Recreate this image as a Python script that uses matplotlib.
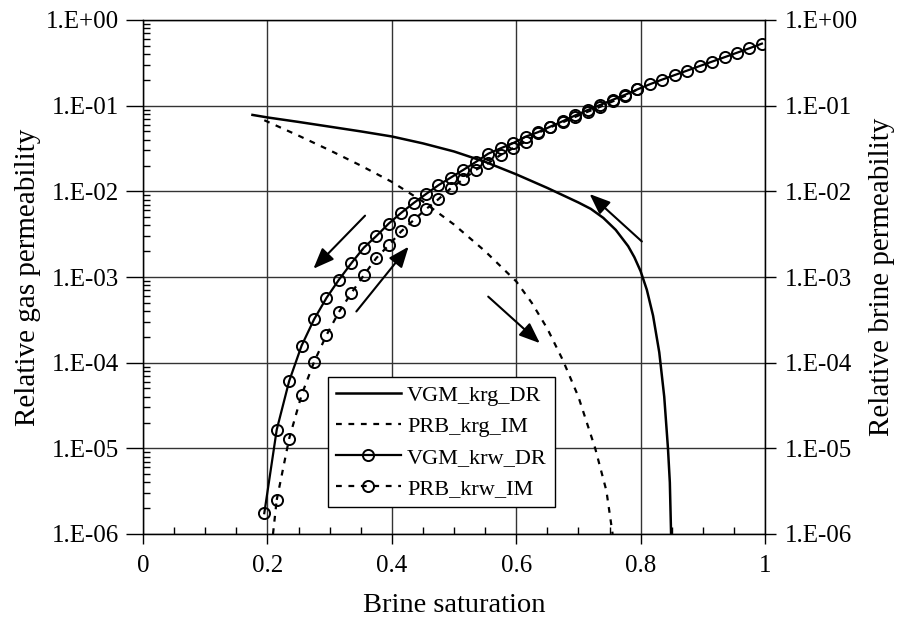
import numpy as np
import matplotlib
matplotlib.use('Agg')
import matplotlib.pyplot as plt
from matplotlib.ticker import FuncFormatter, MultipleLocator, LogLocator, NullLocator

plt.rcParams['font.family'] = ['Liberation Serif', 'DejaVu Serif']

# VGM_krg_DR (solid)
sw_krg_dr = [0.176, 0.2, 0.25, 0.3, 0.35, 0.4, 0.45, 0.5, 0.55, 0.6, 0.65, 0.7,
             0.72, 0.74, 0.76, 0.78, 0.79, 0.8, 0.81, 0.82, 0.83, 0.838, 0.844, 0.847, 0.849]
krg_dr = [0.078, 0.0729, 0.0646, 0.0569, 0.0501, 0.0437, 0.0363, 0.0292, 0.0221, 0.0158, 0.01096, 0.00741,
          0.00624, 0.0049, 0.00355, 0.00229, 0.0017, 0.00117, 7.1e-4, 3.55e-4, 1.32e-4, 4e-5, 1e-5, 4e-6, 1e-6]

# PRB_krg_IM (dashed)
sw_krg_im = [0.195, 0.25, 0.3, 0.35, 0.4, 0.45, 0.5, 0.55, 0.6, 0.625, 0.65,
             0.675, 0.7, 0.727, 0.745, 0.755]
krg_im = [0.0676, 0.0447, 0.0302, 0.020, 0.0129, 0.0076, 0.0041, 0.0020, 8.9e-4, 5e-4, 2.5e-4,
          1.07e-4, 4e-5, 1e-5, 3.2e-6, 1e-6]

# VGM_krw_DR (solid + circles)
sw_krw_dr = [0.195, 0.215, 0.235, 0.255, 0.275, 0.295, 0.315, 0.335, 0.355, 0.375,
             0.395, 0.415, 0.435, 0.455, 0.475, 0.495, 0.515, 0.535, 0.555, 0.575,
             0.595, 0.615, 0.635, 0.655, 0.675, 0.695, 0.715, 0.735, 0.755, 0.775,
             0.795, 0.815, 0.835, 0.855, 0.875, 0.895, 0.915, 0.935, 0.955, 0.975, 0.995]
krw_dr = [1.75e-6, 1.65e-5, 6.1e-5, 1.58e-4, 3.2e-4, 5.7e-4, 9.3e-4, 1.45e-3, 2.2e-3, 3.0e-3,
          4.2e-3, 5.6e-3, 7.3e-3, 9.3e-3, 0.0118, 0.0145, 0.0178, 0.0220, 0.0275, 0.0318,
          0.0365, 0.0435, 0.049, 0.057, 0.066, 0.077, 0.089, 0.102, 0.117, 0.134,
          0.155, 0.178, 0.202, 0.228, 0.257, 0.290, 0.327, 0.368, 0.415, 0.468, 0.530]

# PRB_krw_IM (dashed + circles)
sw_krw_im = [0.215, 0.235, 0.255, 0.275, 0.295, 0.315, 0.335, 0.355, 0.375, 0.395,
             0.415, 0.435, 0.455, 0.475, 0.495, 0.515, 0.535, 0.555, 0.575, 0.595,
             0.615, 0.635, 0.655, 0.675, 0.695, 0.715, 0.735, 0.755, 0.775, 0.795]
krw_im = [2.5e-6, 1.3e-5, 4.2e-5, 1.02e-4, 2.1e-4, 3.9e-4, 6.5e-4, 1.05e-3, 1.66e-3, 2.35e-3,
          3.4e-3, 4.6e-3, 6.2e-3, 8.1e-3, 0.0109, 0.0138, 0.0178, 0.0213, 0.0266, 0.0318,
          0.038, 0.048, 0.056, 0.064, 0.074, 0.085, 0.097, 0.112, 0.130, 0.155]
# tail of the PRB_krw_IM line below its first marker
sw_krw_im_tail = [0.209, 0.215]
krw_im_tail = [1e-6, 2.5e-6]

# arrows (tail -> head) in data coords
arrow_tails = [(0.357, 5.2e-3), (0.343, 3.96e-4), (0.555, 5.9e-4), (0.802, 2.6e-3)]
arrow_heads = [(0.274, 1.25e-3), (0.427, 2.26e-3), (0.638, 1.69e-4), (0.718, 9.3e-3)]

fig = plt.figure(figsize=(9.02, 6.35), dpi=100)
ax = fig.add_axes([143/902, 1-534/635, 622/902, 514/635])

dash = (0, (2.6, 3))
ax.plot(sw_krg_dr, krg_dr, color='k', lw=1.8, label='VGM_krg_DR')
ax.plot(sw_krg_im, krg_im, color='k', lw=1.6, linestyle=dash, label='PRB_krg_IM')
ax.plot(sw_krw_dr, krw_dr, color='k', lw=1.6, marker='o', markersize=8,
        markerfacecolor='none', markeredgewidth=1.4, label='VGM_krw_DR')
ax.plot(sw_krw_im, krw_im, color='k', lw=1.6, linestyle=dash, marker='o', markersize=8,
        markerfacecolor='none', markeredgewidth=1.4, label='PRB_krw_IM')
ax.plot(sw_krw_im_tail, krw_im_tail, color='k', lw=1.6, linestyle=dash)

for t, h in zip(arrow_tails, arrow_heads):
    ax.annotate('', xy=h, xytext=t,
                arrowprops=dict(arrowstyle='-|>,head_length=0.7,head_width=0.28', color='k',
                                lw=1.5, mutation_scale=18, shrinkA=0, shrinkB=0))

ax.set_yscale('log')
ax.set_xlim(0, 1)
ax.set_ylim(1e-6, 1)

fmt = FuncFormatter(lambda v, p: '1.E%+03d' % round(np.log10(v)))
ax.yaxis.set_major_locator(LogLocator(base=10, numticks=10))
ax.yaxis.set_minor_locator(LogLocator(base=10, subs=np.arange(2, 10), numticks=10))
ax.yaxis.set_major_formatter(fmt)
ax.xaxis.set_major_locator(MultipleLocator(0.2))
ax.xaxis.set_minor_locator(MultipleLocator(0.05))
ax.xaxis.set_major_formatter(FuncFormatter(lambda v, p: '%g' % round(v, 2)))

ax.grid(True, which='major', color='0.2', lw=1.0)
ax.tick_params(which='major', direction='out', width=1, labelsize=18)
ax.tick_params(axis='y', which='major', length=12, pad=5)
ax.tick_params(axis='x', which='major', length=7, pad=8)
ax.tick_params(which='minor', direction='in', length=5, width=1)
for s in ax.spines.values():
    s.set_linewidth(1.0)

ax2 = ax.twinx()
ax2.set_yscale('log')
ax2.set_ylim(1e-6, 1)
ax2.yaxis.set_major_locator(LogLocator(base=10, numticks=10))
ax2.yaxis.set_minor_locator(NullLocator())
ax2.yaxis.set_major_formatter(fmt)
ax2.tick_params(which='major', direction='out', length=8, width=1, labelsize=18, pad=6)

ax.set_xlabel('Brine saturation', fontsize=20.5, labelpad=12)
ax.set_ylabel('Relative gas permeability', fontsize=21, labelpad=4)
ax2.set_ylabel('Relative brine permeability', fontsize=21, labelpad=8)

leg = ax.legend(loc='lower left', bbox_to_anchor=(0.298, 0.0525), fontsize=16,
                frameon=True, fancybox=False, edgecolor='k', framealpha=1,
                handlelength=2.9, labelspacing=0.48, borderpad=0.35, handletextpad=0.3,
                borderaxespad=0)
leg.get_frame().set_linewidth(1.0)

fig.savefig('out.png', dpi=100)
